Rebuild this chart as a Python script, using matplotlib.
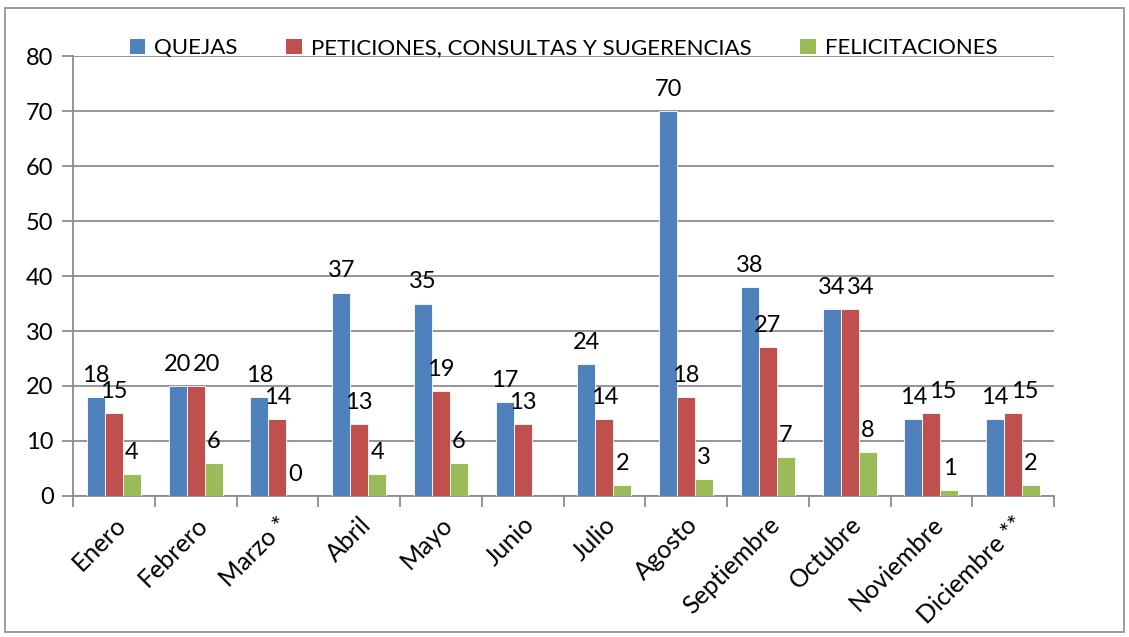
import numpy as np
import matplotlib.pyplot as plt
from matplotlib.patches import Rectangle, Patch

plt.rcParams['font.family'] = ['Lato', 'DejaVu Sans']

meses = ["Enero", "Febrero", "Marzo *", "Abril", "Mayo", "Junio", "Julio",
         "Agosto", "Septiembre", "Octubre", "Noviembre", "Diciembre **"]
quejas = [18, 20, 18, 37, 35, 17, 24, 70, 38, 34, 14, 14]
peticiones = [15, 20, 14, 13, 19, 13, 14, 18, 27, 34, 15, 15]
felicitaciones = [4, 6, 0, 4, 6, None, 2, 3, 7, 8, 1, 2]

series = [("QUEJAS", quejas, "#4F81BD"),
          ("PETICIONES, CONSULTAS Y SUGERENCIAS", peticiones, "#C0504D"),
          ("FELICITACIONES", felicitaciones, "#9BBB59")]

fig = plt.figure(figsize=(11.29, 6.37), dpi=100)
ax = fig.add_axes([0.0647, 0.2214, 0.8689, 0.6906])

# marco gris alrededor de todo el gráfico
fig.patches.append(Rectangle((0.004, 0.008), 0.992, 0.98, transform=fig.transFigure,
                             fill=False, edgecolor="#8C8C8C", linewidth=1.2))

x = np.arange(len(meses))
w = 0.22
for i, (nombre, vals, color) in enumerate(series):
    xs = x + (i - 1) * w
    for j, (xi, v) in enumerate(zip(xs, vals)):
        if v is None:
            continue
        ax.bar(xi, v, width=w, color=color, edgecolor="white", linewidth=0.6, zorder=3)
        # como en Excel: la etiqueta roja se corre si choca con la azul
        dx = 0
        if i == 1 and abs(quejas[j] - v) <= 1:
            dx = 8
        ax.annotate(str(v), (xi, v), xytext=(dx, 8), textcoords="offset points",
                    ha="center", va="bottom", fontsize=17, zorder=4)

ax.set_xlim(-0.5, len(meses) - 0.5)
ax.set_ylim(0, 80)
ax.set_yticks(range(0, 81, 10))
ax.yaxis.grid(True, color="#8C8C8C", linewidth=1.3, zorder=0)
ax.set_axisbelow(True)

ax.set_xticks(x)
ax.set_xticklabels(meses, rotation=45, ha="right", rotation_mode="anchor", fontsize=18)
ax.set_xticks(np.arange(-0.5, len(meses)), minor=True)
ax.tick_params(axis="x", which="major", length=0, pad=12)
ax.tick_params(axis="x", which="minor", length=8, width=1.3, color="#8C8C8C")
ax.tick_params(axis="y", length=8, width=1.3, color="#8C8C8C", labelsize=17, pad=6)

for s in ["top", "right"]:
    ax.spines[s].set_visible(False)
for s in ["left", "bottom"]:
    ax.spines[s].set_color("#8C8C8C")
    ax.spines[s].set_linewidth(1.3)

handles = [Patch(facecolor=c, label=n) for n, _, c in series]
ax.legend(handles=handles, loc="lower center", bbox_to_anchor=(0.5, 0.975), ncol=3,
          frameon=False, fontsize=16, handlelength=0.7, handleheight=0.7,
          handletextpad=0.4, columnspacing=2.2, borderaxespad=0)

fig.savefig("out.png")
